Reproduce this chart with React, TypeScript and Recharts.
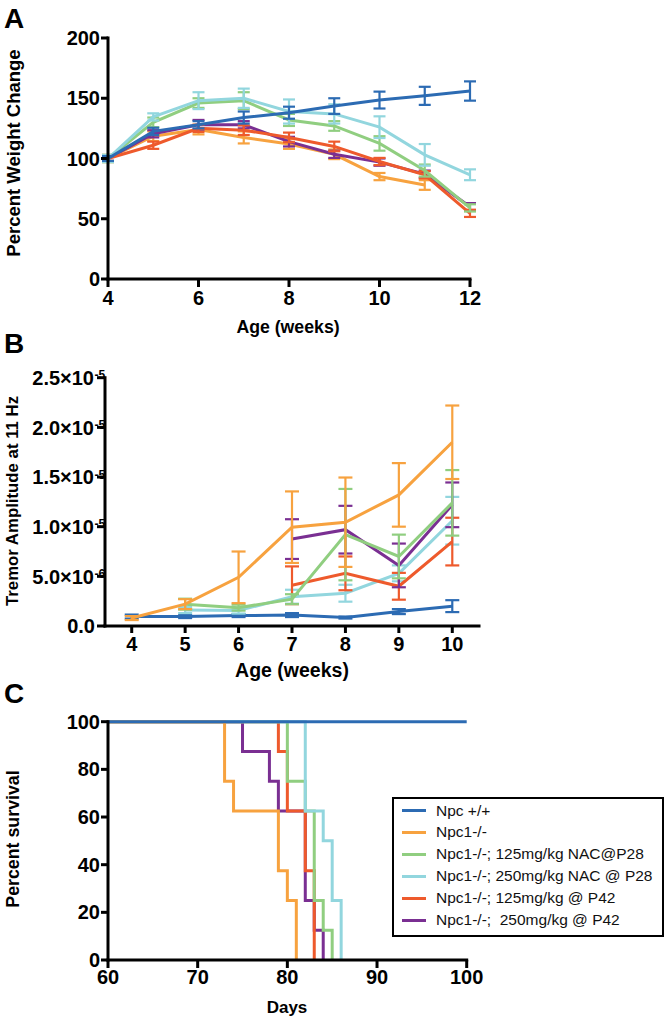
import React from 'react';
import { LineChart, Line, XAxis, YAxis, ErrorBar } from 'recharts';

// ---------- colours ----------
const C_WT = '#2c6bb3';
const C_NPC1 = '#f7a23f';
const C_NAC125 = '#90ce80';
const C_NAC250 = '#92d6de';
const C_P42_125 = '#ee5a2c';
const C_P42_250 = '#7a2f92';

// ---------- Panel A: percent weight change ----------
const weightWeeks = [4, 5, 6, 7, 8, 9, 10, 11, 12];
const weightWT = [100, 122.5, 128, 134, 138, 143.5, 148.5, 152, 156];
const weightWTErr = [2, 3, 3, 5, 5, 6.5, 7, 7.5, 8];
const weightNpc1 = [100, 118.5, 124, 117.5, 112, 103.5, 85, 78, null];
const weightNpc1Err = [3, 4, 4, 5, 4, 4, 3, 4, null];
const weightNac125 = [100, 130, 146, 148, 132, 127, 112.5, 90, 59];
const weightNac125Err = [3, 4, 4, 7, 5, 4, 6, 5, 3];
const weightNac250 = [100, 134.5, 148, 150, 139, 137, 126, 103, 86.5];
const weightNac250Err = [3, 3, 7, 8, 10, 8, 9, 9, 4.5];
const weightP42_125 = [100, 111, 125, 123.5, 117.5, 110, 97.5, 86.5, 54.5];
const weightP42_125Err = [2, 3, 3, 4, 4, 4, 3, 3, 3];
const weightP42_250 = [100, 120.5, 128, 128, 114, 103.5, 97, 87, 60];
const weightP42_250Err = [2, 3, 4, 3, 4, 3, 3, 3, 3];
const weightXTicks = [4, 6, 8, 10, 12];
const weightYTicks = [0, 50, 100, 150, 200];

// ---------- Panel B: tremor amplitude ----------
const tremorWeeks = [4, 5, 6, 7, 8, 9, 10];
const tremorWT = [0.95e-6, 0.95e-6, 1.05e-6, 1.1e-6, 0.85e-6, 1.45e-6, 2.0e-6];
const tremorWTErr = [0.2e-6, 0.15e-6, 0.15e-6, 0.2e-6, 0.1e-6, 0.25e-6, 0.6e-6];
const tremorNpc1 = [0.8e-6, 2.2e-6, 4.9e-6, 9.95e-6, 10.45e-6, 13.2e-6, 18.5e-6];
const tremorNpc1Err = [0.2e-6, 0.5e-6, 2.6e-6, 3.6e-6, 4.5e-6, 3.2e-6, 3.7e-6];
const tremorNac125 = [null, 2.2e-6, 1.85e-6, 2.7e-6, 9.2e-6, 7.0e-6, 12.4e-6];
const tremorNac125Err = [null, 0.55e-6, 0.3e-6, 0.5e-6, 4.6e-6, 2.2e-6, 3.3e-6];
const tremorNac250 = [null, 1.6e-6, 1.55e-6, 2.95e-6, 3.3e-6, 5.3e-6, 10.6e-6];
const tremorNac250Err = [null, 0.3e-6, 0.3e-6, 0.7e-6, 0.85e-6, 0.8e-6, 2.4e-6];
const tremorP42_125 = [null, null, null, 4.1e-6, 5.3e-6, 4.0e-6, 8.5e-6];
const tremorP42_125Err = [null, null, null, 1.9e-6, 1.7e-6, 1.35e-6, 2.4e-6];
const tremorP42_250 = [null, null, null, 8.75e-6, 9.7e-6, 6.1e-6, 12.2e-6];
const tremorP42_250Err = [null, null, null, 2.0e-6, 2.4e-6, 2.2e-6, 2.25e-6];
const tremorXTicks = [4, 5, 6, 7, 8, 9, 10];
const tremorYTicks = [0, 5e-6, 1e-5, 1.5e-5, 2e-5, 2.5e-5];

// ---------- Panel C: survival ----------
const survWTDays = [60, 100];
const survWTPct = [100, 100];
const survNpc1Days = [60, 73, 74, 79, 80, 81];
const survNpc1Pct = [100, 75, 62.5, 37.5, 25, 0];
const survNac125Days = [60, 80, 82, 83, 84, 85];
const survNac125Pct = [100, 75, 62.5, 25, 12.5, 0];
const survNac250Days = [60, 82, 84, 85, 86];
const survNac250Pct = [100, 62.5, 50, 25, 0];
const survP42_125Days = [60, 79, 80, 82, 83];
const survP42_125Pct = [100, 87.5, 62.5, 37.5, 0];
const survP42_250Days = [60, 75, 78, 79, 82, 83, 84];
const survP42_250Pct = [100, 87.5, 75, 62.5, 25, 12.5, 0];
const survXTicks = [60, 70, 80, 90, 100];
const survYTicks = [0, 20, 40, 60, 80, 100];

const legendLabels = [
  'Npc +/+',
  'Npc1-/-',
  'Npc1-/-; 125mg/kg NAC@P28',
  'Npc1-/-; 250mg/kg NAC @ P28',
  'Npc1-/-; 125mg/kg @ P42',
  'Npc1-/-;  250mg/kg @ P42',
];
const legendColors = [C_WT, C_NPC1, C_NAC125, C_NAC250, C_P42_125, C_P42_250];

// ---------- build tables ----------
const weightSeries = [
  { key: 'npc1', color: C_NPC1, v: weightNpc1, e: weightNpc1Err },
  { key: 'p42_250', color: C_P42_250, v: weightP42_250, e: weightP42_250Err },
  { key: 'p42_125', color: C_P42_125, v: weightP42_125, e: weightP42_125Err },
  { key: 'nac125', color: C_NAC125, v: weightNac125, e: weightNac125Err },
  { key: 'nac250', color: C_NAC250, v: weightNac250, e: weightNac250Err },
  { key: 'wt', color: C_WT, v: weightWT, e: weightWTErr },
];
const tremorSeries = [
  { key: 'wt', color: C_WT, v: tremorWT, e: tremorWTErr },
  { key: 'nac250', color: C_NAC250, v: tremorNac250, e: tremorNac250Err },
  { key: 'p42_125', color: C_P42_125, v: tremorP42_125, e: tremorP42_125Err },
  { key: 'p42_250', color: C_P42_250, v: tremorP42_250, e: tremorP42_250Err },
  { key: 'nac125', color: C_NAC125, v: tremorNac125, e: tremorNac125Err },
  { key: 'npc1', color: C_NPC1, v: tremorNpc1, e: tremorNpc1Err },
];
const survSeries = [
  { key: 'p42_250', color: C_P42_250, d: survP42_250Days, p: survP42_250Pct },
  { key: 'p42_125', color: C_P42_125, d: survP42_125Days, p: survP42_125Pct },
  { key: 'nac125', color: C_NAC125, d: survNac125Days, p: survNac125Pct },
  { key: 'nac250', color: C_NAC250, d: survNac250Days, p: survNac250Pct },
  { key: 'npc1', color: C_NPC1, d: survNpc1Days, p: survNpc1Pct },
  { key: 'wt', color: C_WT, d: survWTDays, p: survWTPct },
];

function buildTable(xs: number[], series: any[]) {
  return xs.map((x, i) => {
    const row: any = { x };
    series.forEach((s) => {
      if (s.v[i] != null) {
        row[s.key] = s.v[i];
        row[s.key + 'Err'] = s.e[i];
      }
    });
    return row;
  });
}
const weightTable = buildTable(weightWeeks, weightSeries);
const tremorTable = buildTable(tremorWeeks, tremorSeries);

const FONT = '"Liberation Sans", Arial, Helvetica, sans-serif';
const tickStyle = { fill: '#000', fontSize: 20, fontWeight: 700, fontFamily: FONT };
const axisLineStyle = { stroke: '#000', strokeWidth: 3, strokeLinecap: 'square' as const };
const tickLineStyle = { stroke: '#000', strokeWidth: 3 };

function SciTick(props: any) {
  const { x, y, payload } = props;
  const v = payload.value;
  if (v === 0) {
    return (
      <text x={x} y={y} dy="0.36em" textAnchor="end" style={tickStyle as any} fill="#000">
        0.0
      </text>
    );
  }
  const [m, ex] = Number(v).toExponential(1).split('e');
  const exp = String(parseInt(ex, 10));
  return (
    <g>
      <text x={x - 1} y={y} dy="0.36em" textAnchor="end" style={tickStyle as any} fill="#000">
        {m + '×10'}
      </text>
      <text x={x - 0.5} y={y + 1.5} textAnchor="start" style={{ ...tickStyle, fontSize: 12 } as any} fill="#000">
        {exp}
      </text>
    </g>
  );
}

export default function App() {
  const W = 666;
  return (
    <div style={{ position: 'absolute', left: 0, top: 0, width: W, height: 1021, background: '#fff', fontFamily: FONT }}>
      {/* Panel A */}
      <div style={{ position: 'absolute', left: 0, top: 0 }}>
        <LineChart width={W} height={330} data={weightTable} margin={{ top: 38, right: 196, bottom: 21, left: 48 }}>
          <XAxis
            dataKey="x"
            type="number"
            domain={[4, 12]}
            ticks={weightXTicks}
            height={30}
            tickSize={8}
            tickMargin={4}
            axisLine={axisLineStyle}
            tickLine={tickLineStyle}
            tick={tickStyle}
            interval={0}
          />
          <YAxis
            type="number"
            domain={[0, 200]}
            ticks={weightYTicks}
            width={60}
            tickSize={7}
            tickMargin={1}
            axisLine={axisLineStyle}
            tickLine={tickLineStyle}
            tick={tickStyle}
            interval={0}
          />
          {weightSeries.map((s) => (
            <Line
              key={s.key}
              type="linear"
              dataKey={s.key}
              stroke={s.color}
              strokeWidth={3}
              dot={false}
              activeDot={false}
              isAnimationActive={false}
            >
              <ErrorBar dataKey={s.key + 'Err'} width={6} strokeWidth={2.2} stroke={s.color} direction="y" />
            </Line>
          ))}
        </LineChart>
      </div>

      {/* Panel B */}
      <div style={{ position: 'absolute', left: 0, top: 340 }}>
        <LineChart width={W} height={340} data={tremorTable} margin={{ top: 37.7, right: 187, bottom: 24, left: 45 }}>
          <XAxis
            dataKey="x"
            type="number"
            domain={[3.5, 10.5]}
            ticks={tremorXTicks}
            height={30}
            tickSize={7}
            tickMargin={4}
            axisLine={axisLineStyle}
            tickLine={tickLineStyle}
            tick={tickStyle}
            interval={0}
          />
          <YAxis
            type="number"
            domain={[0, 2.5e-5]}
            ticks={tremorYTicks}
            width={60}
            tickSize={8}
            tickMargin={2}
            axisLine={axisLineStyle}
            tickLine={tickLineStyle}
            tick={<SciTick />}
            interval={0}
          />
          {tremorSeries.map((s) => (
            <Line
              key={s.key}
              type="linear"
              dataKey={s.key}
              stroke={s.color}
              strokeWidth={3}
              dot={false}
              activeDot={false}
              isAnimationActive={false}
            >
              <ErrorBar dataKey={s.key + 'Err'} width={7} strokeWidth={2.2} stroke={s.color} direction="y" />
            </Line>
          ))}
        </LineChart>
      </div>

      {/* Panel C */}
      <div style={{ position: 'absolute', left: 0, top: 680 }}>
        <LineChart width={W} height={341} margin={{ top: 41.7, right: 199.3, bottom: 31, left: 48 }}>
          <XAxis
            dataKey="x"
            type="number"
            domain={[60, 100]}
            ticks={survXTicks}
            height={30}
            tickSize={8}
            tickMargin={2}
            axisLine={axisLineStyle}
            tickLine={tickLineStyle}
            tick={tickStyle}
            interval={0}
            allowDuplicatedCategory={false}
          />
          <YAxis
            type="number"
            domain={[0, 100]}
            ticks={survYTicks}
            width={60}
            tickSize={7}
            tickMargin={1}
            axisLine={axisLineStyle}
            tickLine={tickLineStyle}
            tick={tickStyle}
            interval={0}
          />
          {survSeries.map((s) => (
            <Line
              key={s.key}
              data={s.d.map((day: number, i: number) => ({ x: day, y: s.p[i] }))}
              type="stepAfter"
              dataKey="y"
              stroke={s.color}
              strokeWidth={3}
              dot={false}
              activeDot={false}
              isAnimationActive={false}
            />
          ))}
        </LineChart>
      </div>

      {/* Legend */}
      <div
        style={{
          position: 'absolute',
          left: 392,
          top: 797,
          width: 268,
          height: 136,
          border: '2px solid #000',
          background: '#fff',
        }}
      >
        {legendLabels.map((lab, i) => (
          <div
            key={lab}
            style={{ position: 'absolute', left: 0, top: 0.5 + i * 21.9, height: 22, display: 'flex', alignItems: 'center' }}
          >
            <div style={{ marginLeft: 8, width: 24, height: 3, background: legendColors[i] }} />
            <span style={{ marginLeft: 10, fontSize: 15.5, color: '#111', whiteSpace: 'pre', fontFamily: FONT }}>{lab}</span>
          </div>
        ))}
      </div>

      {/* Titles and panel letters */}
      <svg width={W} height={1021} style={{ position: 'absolute', left: 0, top: 0, pointerEvents: 'none' }}>
        <g fontFamily={FONT} fontWeight={700} fill="#000">
          <text x={4} y={28} fontSize={28}>A</text>
          <text x={4} y={353} fontSize={28}>B</text>
          <text x={4} y={703} fontSize={28}>C</text>

          <text x={288} y={333} fontSize={17.7} textAnchor="middle">Age (weeks)</text>
          <text x={20} y={153} fontSize={18.5} textAnchor="middle" transform="rotate(-90 20 153)">
            Percent Weight Change
          </text>

          <text x={292} y={677} fontSize={19.5} textAnchor="middle">Age (weeks)</text>
          <text x={18} y={501} fontSize={16.8} textAnchor="middle" transform="rotate(-90 18 501)">
            Tremor Amplitude at 11 Hz
          </text>

          <text x={287} y={1013} fontSize={17} textAnchor="middle">Days</text>
          <text x={19} y={839} fontSize={17.8} textAnchor="middle" transform="rotate(-90 19 839)">
            Percent survival
          </text>
        </g>
      </svg>
    </div>
  );
}
